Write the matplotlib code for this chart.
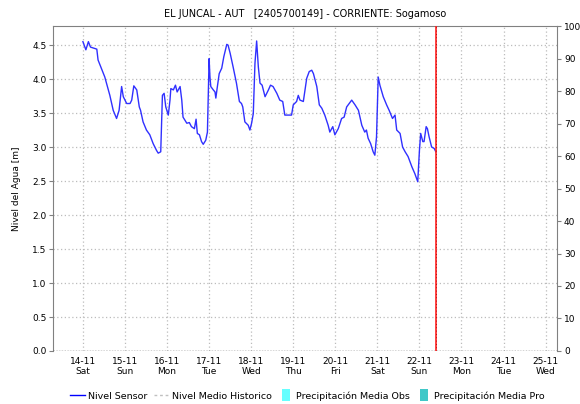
import matplotlib
matplotlib.use('Agg')
import matplotlib.pyplot as plt
from matplotlib.lines import Line2D

# Data: days since 14-11 00:00 and level [m]
t_days = [0.00, 0.07, 0.13, 0.18, 0.33, 0.36, 0.52, 0.64, 0.72, 0.80,
          0.86, 0.92, 0.96, 1.04, 1.12, 1.16, 1.21, 1.28, 1.34, 1.37,
          1.43, 1.51, 1.59, 1.67, 1.75, 1.79, 1.85, 1.87, 1.89, 1.93,
          1.97, 2.03, 2.07, 2.09, 2.15, 2.20, 2.24, 2.31, 2.35, 2.38,
          2.47, 2.53, 2.58, 2.65, 2.69, 2.72, 2.77, 2.82, 2.86, 2.92,
          2.96, 2.98, 3.00, 3.02, 3.04, 3.10, 3.14, 3.16, 3.19, 3.24,
          3.30, 3.35, 3.42, 3.45, 3.50, 3.57, 3.65, 3.72, 3.77, 3.80,
          3.85, 3.93, 3.97, 4.01, 4.05, 4.09, 4.13, 4.17, 4.21, 4.26,
          4.33, 4.41, 4.46, 4.52, 4.61, 4.68, 4.75, 4.80, 4.96, 5.00,
          5.08, 5.12, 5.16, 5.24, 5.32, 5.38, 5.44, 5.48, 5.56, 5.62,
          5.68, 5.75, 5.83, 5.87, 5.94, 5.99, 6.07, 6.15, 6.21, 6.27,
          6.33, 6.39, 6.47, 6.55, 6.63, 6.70, 6.74, 6.78, 6.84, 6.90,
          6.94, 6.98, 7.02, 7.06, 7.14, 7.22, 7.28, 7.36, 7.42, 7.46,
          7.54, 7.60, 7.66, 7.73, 7.82, 7.89, 7.93, 7.96, 8.00, 8.03,
          8.08, 8.11, 8.16, 8.19, 8.23, 8.29, 8.35, 8.39]
nivel = [4.55, 4.43, 4.55, 4.47, 4.44, 4.28, 4.03, 3.76, 3.54, 3.42,
         3.54, 3.89, 3.74, 3.64, 3.64, 3.69, 3.90, 3.84, 3.59, 3.54,
         3.37, 3.25, 3.18, 3.05, 2.95, 2.91, 2.93, 3.35, 3.76, 3.79,
         3.59, 3.47, 3.69, 3.86, 3.84, 3.91, 3.81, 3.89, 3.69, 3.44,
         3.35, 3.36, 3.30, 3.27, 3.41, 3.20, 3.18, 3.08, 3.04, 3.10,
         3.22, 3.76, 4.30, 4.03, 3.89, 3.84, 3.81, 3.72, 3.86, 4.08,
         4.16, 4.33, 4.51, 4.50, 4.38, 4.18, 3.94, 3.67, 3.64, 3.59,
         3.37, 3.32, 3.25, 3.35, 3.49, 4.23, 4.56, 4.18, 3.94, 3.91,
         3.74, 3.84, 3.91, 3.89, 3.79, 3.69, 3.67, 3.47, 3.47, 3.62,
         3.67, 3.76, 3.69, 3.67, 4.01, 4.11, 4.13, 4.08, 3.89, 3.62,
         3.57, 3.47, 3.32, 3.22, 3.30, 3.18, 3.27, 3.42, 3.44, 3.59,
         3.64, 3.69, 3.62, 3.54, 3.32, 3.22, 3.25, 3.13, 3.05, 2.93,
         2.88, 3.15, 4.03, 3.91, 3.74, 3.62, 3.54, 3.42, 3.47, 3.25,
         3.20, 3.00, 2.93, 2.86, 2.71, 2.61, 2.54, 2.49, 2.95, 3.20,
         3.08, 3.08, 3.30, 3.27, 3.15, 3.00, 2.98, 2.93]

day_labels = ['14-11\nSat', '15-11\nSun', '16-11\nMon', '17-11\nTue',
              '18-11\nWed', '19-11\nThu', '20-11\nFri', '21-11\nSat',
              '22-11\nSun', '23-11\nMon', '24-11\nTue', '25-11\nWed']
now_day = 8.40

plt.rcParams['font.family'] = ['DejaVu Sans']
plt.rcParams['font.size'] = 6.5

fig = plt.figure(figsize=(5.8, 4.04), dpi=100)
ax = fig.add_axes([0.0922, 0.1312, 0.8681, 0.8044])

ax.plot(t_days, nivel, color='#3030ff', lw=1.0, zorder=3)
ax.axhline(0, color='#404040', lw=1.0, ls=(0, (1, 1)), zorder=4)
ax.axvline(now_day, color='#ff2020', lw=1.2, zorder=5)
ax.axvline(now_day, color='#a00000', lw=0.6, ls=(0, (1, 3)), zorder=6)

ax.set_xlim(-0.70, 11.27)
ax.set_ylim(0, 4.78)
ax.set_xticks(range(len(day_labels)))
ax.set_xticklabels(day_labels, linespacing=1.25)
ax.set_yticks([0, 0.5, 1, 1.5, 2, 2.5, 3, 3.5, 4, 4.5])
ax.set_yticklabels(['0.0', '0.5', '1.0', '1.5', '2.0', '2.5', '3.0',
                    '3.5', '4.0', '4.5'])
ax.grid(True, color='#bcbcbc', ls=(0, (1, 2)), lw=0.9)
ax.tick_params(axis='y', length=3, color='#808080', pad=2)
ax.tick_params(axis='x', length=0, pad=4)
ax.set_ylabel('Nivel del Agua [m]', labelpad=8)
for s in ['left', 'top', 'right']:
    ax.spines[s].set_color('#808080')
ax.spines['bottom'].set_visible(False)

ax2 = ax.twinx()
ax2.set_ylim(0, 100)
ax2.set_yticks(range(0, 101, 10))
ax2.tick_params(axis='y', length=3, color='#808080', pad=2)
for s in ax2.spines.values():
    s.set_visible(False)

fig.text(0.526, 0.965, 'EL JUNCAL - AUT   [2405700149] - CORRIENTE: Sogamoso',
         ha='center', va='center', fontsize=7)

bar_marker = [(-0.6, -1), (0.6, -1), (0.6, 1), (-0.6, 1)]
handles = [Line2D([], [], color='#0000ff', lw=1.0),
           Line2D([], [], color='#c0c0c0', lw=1.0, ls=(0, (2, 2))),
           Line2D([], [], ls='none', marker=bar_marker, markersize=9,
                  color='#66ffff', markeredgewidth=0),
           Line2D([], [], ls='none', marker=bar_marker, markersize=9,
                  color='#40c8c8', markeredgewidth=0)]
labels = ['Nivel Sensor', 'Nivel Medio Historico',
          'Precipitación Media Obs', 'Precipitación Media Pro']
fig.legend(handles, labels, loc='center', bbox_to_anchor=(0.53, 0.02),
           ncol=4, frameon=False, handlelength=1.6, handletextpad=0.3,
           columnspacing=0.7, fontsize=6.8)

fig.savefig('out.png', dpi=100)
